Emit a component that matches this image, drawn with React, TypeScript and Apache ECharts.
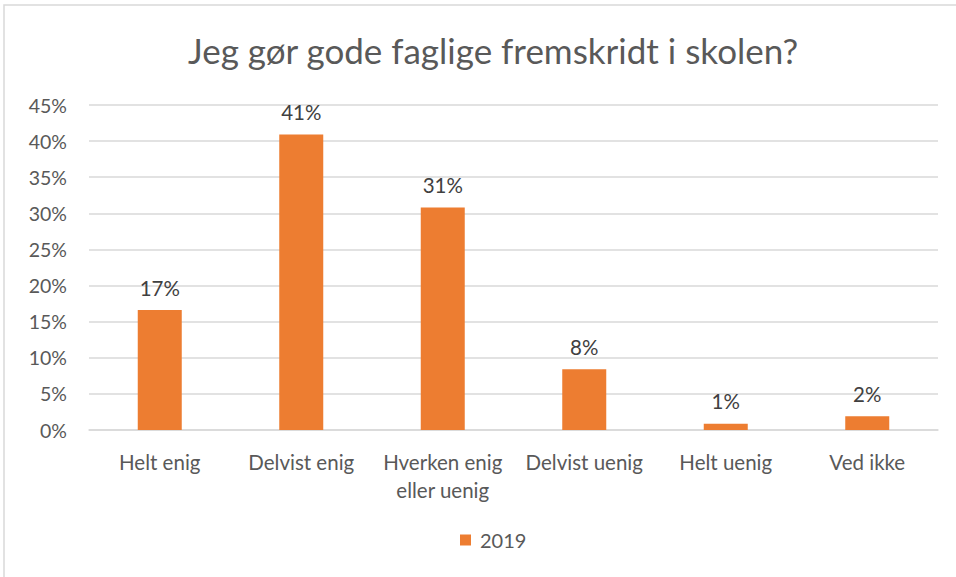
import React, { useEffect, useRef } from "react";
import * as echarts from "echarts";

const categories = [
  "Helt enig",
  "Delvist enig",
  "Hverken enig\neller uenig",
  "Delvist uenig",
  "Helt uenig",
  "Ved ikke",
];
const values2019 = [16.6, 40.9, 30.8, 8.4, 0.85, 1.9];
const seriesName = "2019";
const titleText = "Jeg gør gode faglige fremskridt i skolen?";

const FONT = "Lato";

export default function App() {
  const ref = useRef<HTMLDivElement>(null);
  useEffect(() => {
    if (!ref.current) return;
    const chart = echarts.init(ref.current, null, { renderer: "svg" });
    chart.setOption({
      animation: false,
      backgroundColor: "#ffffff",
      textStyle: { fontFamily: FONT },
      title: {
        text: titleText,
        left: 183,
        top: 27,
        textStyle: { fontFamily: FONT, fontSize: 35, fontWeight: "normal", color: "#595959" },
      },
      graphic: [
        {
          type: "rect",
          shape: { x: 4, y: 5, width: 1000, height: 1000 },
          style: { fill: "none", stroke: "#d9d9d9", lineWidth: 1.5 },
          silent: true,
          z: -1,
        },
      ],
      legend: {
        bottom: 22,
        left: 455,
        icon: "rect",
        itemWidth: 11,
        itemHeight: 11,
        itemGap: 4,
        textStyle: { fontFamily: FONT, fontSize: 20, color: "#595959", padding: [0, 0, 0, 4] },
        data: [seriesName],
      },
      grid: { left: 89, right: 18, top: 105, bottom: 147, containLabel: false },
      xAxis: {
        type: "category",
        data: categories,
        axisLine: { show: true, lineStyle: { color: "#d9d9d9", width: 1.5 } },
        axisTick: { show: false },
        axisLabel: {
          fontFamily: FONT,
          fontSize: 20.5,
          color: "#595959",
          margin: 18,
          lineHeight: 28,
          interval: 0,
        },
      },
      yAxis: {
        type: "value",
        min: 0,
        max: 45,
        interval: 5,
        axisLine: { show: false },
        axisTick: { show: false },
        splitLine: { lineStyle: { color: "#d9d9d9", width: 1.5 } },
        axisLabel: {
          fontFamily: FONT,
          fontSize: 19.5,
          color: "#595959",
          margin: 22,
          formatter: (v: number) => v + "%",
        },
      },
      series: [
        {
          name: seriesName,
          type: "bar",
          data: values2019,
          barWidth: 44,
          itemStyle: { color: "#ED7D31" },
          label: {
            show: true,
            position: "top",
            distance: 12,
            fontFamily: FONT,
            fontSize: 20.5,
            color: "#404040",
            formatter: (p: any) => Math.round(p.value) + "%",
          },
        },
      ],
    });
    return () => chart.dispose();
  }, []);
  return <div ref={ref} style={{ width: 956, height: 577, position: "absolute", left: 0, top: 0 }} />;
}
